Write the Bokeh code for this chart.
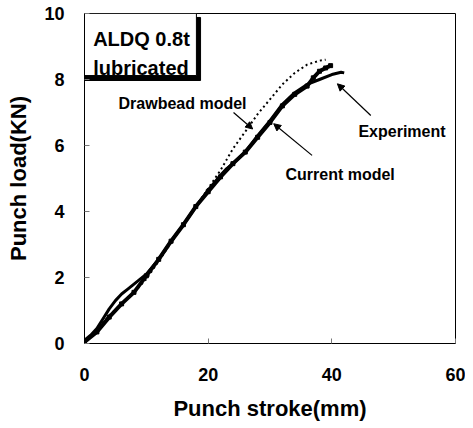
from bokeh.plotting import figure
from bokeh.models import Range1d, FixedTicker, Arrow, NormalHead, Label
from bokeh.embed import file_html
from bokeh.resources import INLINE

# Data
exp_x = [0, 1, 2, 3, 4, 5, 6, 7, 8, 9, 10, 12, 14, 16, 18, 20, 22, 23, 24, 26, 28, 30, 32, 34, 36, 38, 40, 41.5, 42]
exp_y = [0.1, 0.25, 0.45, 0.75, 1.05, 1.3, 1.5, 1.65, 1.8, 1.95, 2.1, 2.55, 3.1, 3.6, 4.15, 4.65, 5.1, 5.3, 5.45, 5.8, 6.3, 6.75, 7.25, 7.6, 7.85, 8.0, 8.15, 8.22, 8.2]

cur_x = [0, 2, 4, 6, 8, 10, 12, 14, 16, 18, 20, 22, 24, 26, 28, 30, 32, 34, 36, 37, 38, 39, 39.8]
cur_y = [0.05, 0.35, 0.8, 1.2, 1.55, 2.05, 2.55, 3.1, 3.6, 4.15, 4.6, 5.05, 5.45, 5.8, 6.25, 6.7, 7.2, 7.55, 7.8, 8.05, 8.25, 8.35, 8.42]

db_x = [0, 2, 4, 6, 8, 10, 12, 14, 16, 18, 20, 22, 24, 26, 28, 30, 32, 34, 36, 38, 39]
db_y = [0.1, 0.4, 0.85, 1.2, 1.55, 1.95, 2.5, 3.05, 3.6, 4.15, 4.7, 5.25, 5.9, 6.42, 6.95, 7.4, 7.85, 8.2, 8.45, 8.57, 8.6]

x_ticks = [0, 20, 40, 60]
y_ticks = [0, 2, 4, 6, 8, 10]

FONT = "Liberation Sans"

p = figure(width=465, height=428, output_backend="svg", toolbar_location=None,
           x_range=Range1d(0, 60), y_range=Range1d(0, 10),
           min_border_left=84, min_border_right=10, min_border_top=13, min_border_bottom=85)
p.xgrid.visible = False
p.ygrid.visible = False
p.outline_line_color = "black"
p.outline_line_width = 1
p.background_fill_color = "white"
p.border_fill_color = "white"

for ax in (p.xaxis[0], p.yaxis[0]):
    ax.major_tick_in = 5
    ax.major_tick_out = 0
    ax.minor_tick_in = 0
    ax.minor_tick_out = 0
    ax.major_tick_line_color = "#777777"
    ax.axis_line_color = "black"
    ax.major_label_text_font = FONT
    ax.major_label_text_font_style = "bold"
    ax.major_label_text_font_size = "18px"
    ax.major_label_text_color = "black"
    ax.axis_label_text_font = FONT
    ax.axis_label_text_font_style = "bold"
    ax.axis_label_text_font_size = "22px"
    ax.axis_label_text_color = "black"

p.xaxis.ticker = FixedTicker(ticks=x_ticks)
p.yaxis.ticker = FixedTicker(ticks=y_ticks)
p.xaxis.axis_label = "Punch stroke(mm)"
p.yaxis.axis_label = "Punch load(KN)"
p.xaxis.major_label_standoff = 24
p.xaxis.axis_label_standoff = 12
p.yaxis.major_label_standoff = 20
p.yaxis.axis_label_standoff = 10

# Curves
p.line(db_x, db_y, line_color="black", line_width=2, line_dash="2 3")
p.line(cur_x, cur_y, line_color="black", line_width=4)
p.scatter(cur_x, cur_y, marker="square", size=4, color="black")
p.line(exp_x, exp_y, line_color="black", line_width=3)

# Legend box with shadow
p.quad(left=[0], right=[18.77], bottom=[7.97], top=[9.88], fill_color="black", line_color="black")
p.quad(left=[0], right=[18.1], bottom=[8.12], top=[10], fill_color="white", line_color="black", line_width=1)
p.add_layout(Label(x=1.4, y=9.24, text="ALDQ 0.8t", text_font=FONT, text_font_style="bold",
                   text_font_size="20px", text_color="black", text_baseline="alphabetic"))
p.add_layout(Label(x=1.4, y=8.36, text="lubricated", text_font=FONT, text_font_style="bold",
                   text_font_size="20px", text_color="black", text_baseline="alphabetic"))

# Annotations
notes = [
    ("Drawbead model", 5.5, 7.26, 24.1, 7.0, 27.2, 6.5),
    ("Experiment", 44.3, 6.43, 46.3, 6.91, 40.9, 7.87),
    ("Current model", 32.5, 5.12, 36.8, 5.7, 30.6, 6.66),
]
for txt, tx, ty, x0, y0, x1, y1 in notes:
    p.add_layout(Label(x=tx, y=ty, text=txt, text_font=FONT, text_font_style="bold",
                       text_font_size="16px", text_color="black", text_baseline="alphabetic"))
    p.add_layout(Arrow(x_start=x0, y_start=y0, x_end=x1, y_end=y1, line_width=1.2, line_color="black",
                       end=NormalHead(size=7, fill_color="black", line_color="black")))

open("out.html", "w").write(file_html(p, INLINE))
